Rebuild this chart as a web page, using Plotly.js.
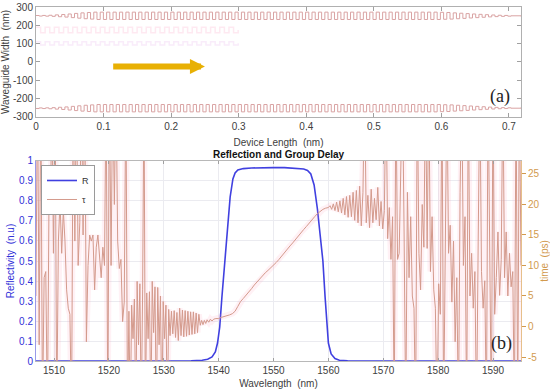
<!DOCTYPE html>
<html><head><meta charset="utf-8">
<script src="https://cdn.plot.ly/plotly-3.0.1.min.js"></script>
<style>html,body{margin:0;padding:0;background:#fff}#chart{width:550px;height:390px}</style>
</head><body><div id="chart"></div>
<script>
// ---------- Panel (a): waveguide width profile ----------
const gratingX = [0,0.0095,0.019,0.0285,0.038,0.0475,0.057,0.0665,0.076,0.0855,0.095,0.1045,0.114,0.1235,0.133,0.1425,0.152,0.1615,0.171,0.1805,0.19,0.1995,0.209,0.2185,0.228,0.2375,0.247,0.2565,0.266,0.2755,0.285,0.2945,0.304,0.3135,0.323,0.3325,0.342,0.3515,0.361,0.3705,0.38,0.3895,0.399,0.4085,0.418,0.4275,0.437,0.4465,0.456,0.4655,0.475,0.4845,0.494,0.5035,0.513,0.5225,0.532,0.5415,0.551,0.5605,0.57,0.5795,0.589,0.5985,0.608,0.6175,0.627,0.6365,0.646,0.6555,0.665,0.6745,0.684,0.6935,0.703];
const gratingAmp = [1.5,2,3,5,7,10,13,16,18,
  20,20,20,20,20,20,20,20,20,20,20,20,20,20,20,20,20,20,20,20,20,20,20,20,20,20,20,20,20,20,20,20,20,20,20,20,20,20,20,20,20,20,20,20,20,20,20,20,20,20,20,20,20,20,
  19,18,16,14,12,10,8,6,4.5,3,2];
const upperCenter = 252, lowerCenter = -252;
const tailX = [0.703, 0.7178];
const tailUpper = [252, 249];
const tailLower = [-252, -249];
// faint ghost traces visible in the reference
const ghostX = [0,0.0136,0.0272,0.0408,0.0544,0.068,0.0816,0.0952,0.1088,0.1224,0.136,0.1496,0.1632,0.1768,0.1904,0.204,0.2176,0.2312,0.2448,0.2584,0.272,0.2856,0.2992];
const ghostAmpA = [15,15,15,15,15,15,15,15,15,15,15,15,15,15,15,15,15,15,15,15,15,15];
const ghostAmpB = [9,9,9,9,9,9,9,9,9,9,9,9,9,9,9,9,9,9,9,9,9,9];
const ghostCenterA = 175, ghostCenterB = 102;
const arrowStart = [0.112, -25], arrowEnd = [0.25, -25];

// ---------- Panel (b): reflection and group delay ----------
const reflectivity = [[1506.7,0],[1530,0],[1535,0.001],[1537,0.004],[1538,0.009],[1538.8,0.02],[1539.4,0.045],[1539.8,0.09],[1540.2,0.17],[1540.6,0.32],[1541.1,0.5],[1541.6,0.68],[1542.1,0.82],[1542.6,0.91],[1543.0,0.94],[1543.5,0.955],[1544.5,0.962],[1546,0.965],[1548,0.967],[1550,0.967],[1552,0.967],[1554,0.965],[1555.5,0.96],[1556.2,0.953],[1556.8,0.935],[1557.4,0.88],[1558.0,0.76],[1558.5,0.63],[1559.0,0.5],[1559.4,0.32],[1559.7,0.18],[1560.0,0.09],[1560.5,0.035],[1561.2,0.012],[1562,0.004],[1563.5,0.001],[1566,0],[1595.1,0]];

const groupDelay = [
[1506.7,5],[1507.0,40],[1507.3,-3],[1507.6,40],[1507.9,-15],[1508.2,8],[1508.5,9],[1508.8,-15],[1509.1,22],[1509.4,21],[1509.6,40],[1509.9,12],[1510.2,40],[1510.5,-15],[1510.8,14],[1511.1,20.5],[1511.4,12],[1511.7,19],[1512.0,14],[1512.3,6],[1512.6,3],[1512.9,2],[1513.2,-15],[1513.5,40],[1513.8,14],[1514.1,40],[1514.4,10],[1514.7,17],[1515.0,40],[1515.3,15],[1515.6,40],[1515.9,-2.5],[1516.2,10],[1516.5,15],[1516.8,14],[1517.1,15],[1517.4,6],[1517.7,13],[1518.0,15],[1518.3,12],[1518.6,8],[1518.9,13],[1519.2,10],[1519.5,40],[1519.8,-15],[1520.1,40],[1520.4,10],[1520.7,40],[1521.0,20],[1521.3,40],[1521.6,14],[1521.9,9.5],[1522.2,11],[1522.5,0.8],[1522.8,4],[1523.1,40],[1523.4,-15],
[1523.65,2.5],[1523.9,-15],[1524.15,3.5],[1524.4,-2],[1524.65,4.5],[1524.9,-15],[1525.15,7.4],[1525.4,-3],[1525.65,7.0],[1525.9,-15],[1526.15,6],[1526.4,40],[1526.65,-15],[1526.9,5.5],[1527.15,-2],[1527.4,5.7],[1527.65,-15],[1527.9,7.4],[1528.15,-1],[1528.4,6.5],[1528.65,-15],[1528.9,6.4],[1529.15,-3],[1529.4,5],[1529.65,-15],[1529.9,4.1],[1530.15,-2],[1530.4,3.5],[1530.65,-15],[1530.9,2.8],[1531.15,-1.5],[1531.4,2.5],[1531.65,-1.2],[1531.9,2.6],[1532.15,-1.8],[1532.4,2.3],[1532.65,-2.3],[1532.9,3.0],[1533.15,-1.5],[1533.4,2.7],[1533.65,-1.7],[1533.9,2.6],[1534.15,-1.6],[1534.4,2.5],[1534.65,-1.4],[1534.9,2.4],[1535.15,-1.3],[1535.4,2.4],[1535.65,-1.2],[1535.9,2.2],[1536.15,-1.0],[1536.4,2.0],[1536.65,0.2],[1536.9,1.0],[1537.15,0.3],[1537.4,1.0],[1537.65,0.5],[1537.9,1.1],[1538.2,0.7],[1538.5,1.2],[1538.8,0.9],[1539.1,1.2],
[1539.5,1.3],[1540.0,1.3],[1540.5,1.5],[1541.0,1.6],[1541.5,1.8],[1542.0,1.9],[1542.5,2.1],[1543.0,2.5],[1543.5,3.3],[1544.0,4.1],[1544.5,4.6],[1545.0,5.1],[1545.5,5.6],[1546.0,6.2],[1546.5,6.8],[1547.0,7.3],[1547.5,7.9],[1548.0,8.4],[1548.5,8.8],[1549.0,9.2],[1549.5,9.6],[1550.0,10.0],[1550.5,10.5],[1551.0,11.0],[1551.5,11.6],[1552.0,12.1],[1552.5,12.6],[1553.0,13.2],[1553.5,13.7],[1554.0,14.3],[1554.5,14.8],[1555.0,15.4],[1555.5,15.9],[1556.0,16.4],[1556.5,17.0],[1557.0,17.5],[1557.5,18.0],[1558.0,18.5],[1558.5,18.9],[1559.0,19.2],[1559.5,19.4],[1560.0,19.5],
[1560.3,19.8],[1560.6,19.2],[1560.9,20.1],[1561.2,19.0],[1561.5,20.4],[1561.8,18.8],[1562.1,20.6],[1562.4,18.6],[1562.7,21.0],[1563.0,18.3],[1563.3,21.3],[1563.6,17.9],[1563.9,21.5],[1564.2,18.0],[1564.5,22.0],[1564.8,17.4],[1565.1,22.3],[1565.4,17.0],[1565.7,23.0],[1566.0,16.5],[1566.3,22.0],[1566.6,40],[1566.9,17.0],[1567.2,21.5],[1567.5,16.2],[1567.8,22.5],[1568.1,17.0],[1568.4,21.0],[1568.7,17.5],[1569.0,22.8],[1569.3,16.5],[1569.6,20.5],[1569.9,16.0],[1570.2,19.0],[1570.5,40],[1570.8,14.4],[1571.1,19.5],[1571.4,11],[1571.7,18],[1572.0,-15],[1572.3,40],[1572.6,11],[1572.9,12],[1573.2,20],[1573.5,40],[1573.8,15],[1574.1,-15],[1574.4,22],[1574.7,8],[1575.0,18],[1575.3,5],[1575.6,3],[1575.9,-15],[1576.2,40],[1576.5,12],[1576.8,6],[1577.1,20],[1577.4,13],[1577.7,40],[1578.0,12.8],[1578.3,40],[1578.6,9],[1578.9,18],[1579.2,6],[1579.5,3],[1579.8,-15],[1580.1,7],[1580.4,2],[1580.7,40],[1581.0,-15],[1581.3,10],[1581.6,40],[1581.9,12],[1582.2,16.6],[1582.5,4],[1582.8,14],[1583.1,-2.5],[1583.4,8],[1583.7,-15],[1584.0,22],[1584.3,40],[1584.6,10],[1584.9,18],[1585.2,-15],[1585.5,40],[1585.8,5],[1586.1,12],[1586.4,3],[1586.7,9],[1587.0,-15],[1587.3,14],[1587.6,40],[1587.9,9],[1588.2,3],[1588.5,7.5],[1588.8,-15],[1589.1,40],[1589.4,5],[1589.7,-15],[1590.0,40],[1590.3,2],[1590.6,8],[1590.9,15.5],[1591.2,5.1],[1591.5,11],[1591.8,40],[1592.1,8],[1592.4,15.5],[1592.7,5],[1593.0,12],[1593.3,6.5],[1593.6,9],[1593.9,-15],[1594.2,40],[1594.5,-15],[1594.8,40],[1595.1,10]
];

const lengthTicks = [0,0.1,0.2,0.3,0.4,0.5,0.6,0.7];
const widthTicks = [-300,-200,-100,0,100,200,300];
const wavelengthTicks = [1510,1520,1530,1540,1550,1560,1570,1580,1590];
const reflTicks = [0,0.1,0.2,0.3,0.4,0.5,0.6,0.7,0.8,0.9,1];
const delayTicks = [-5,0,5,10,15,20,25];

function squareWave(xs, amps, center, sign) {
  const x = [], y = [];
  for (let i = 0; i < amps.length; i++) {
    const mid = (xs[i] + xs[i + 1]) / 2;
    x.push(xs[i], mid);
    y.push(center + sign * amps[i], center - sign * amps[i]);
  }
  x.push(xs[amps.length]);
  y.push(center);
  return {x, y};
}

const up = squareWave(gratingX, gratingAmp, upperCenter, 1);
const lo = squareWave(gratingX, gratingAmp, lowerCenter, -1);
const gA = squareWave(ghostX, ghostAmpA, ghostCenterA, 1);
const gB = squareWave(ghostX, ghostAmpB, ghostCenterB, 1);

const waveColor = '#d9a3a3';
const traces = [
  {x: gA.x, y: gA.y, xaxis:'x', yaxis:'y', mode:'lines', line:{shape:'hv', color:'rgba(250,175,205,0.28)', width:1.5}, showlegend:false, hoverinfo:'skip'},
  {x: gB.x, y: gB.y, xaxis:'x', yaxis:'y', mode:'lines', line:{shape:'hv', color:'rgba(230,180,235,0.25)', width:1.5}, showlegend:false, hoverinfo:'skip'},
  {x: up.x.concat(tailX), y: up.y.concat(tailUpper), xaxis:'x', yaxis:'y', mode:'lines', line:{shape:'hv', color:waveColor, width:1}, showlegend:false},
  {x: lo.x.concat(tailX), y: lo.y.concat(tailLower), xaxis:'x', yaxis:'y', mode:'lines', line:{shape:'hv', color:waveColor, width:1}, showlegend:false},
  {x: reflectivity.map(p=>p[0]), y: reflectivity.map(p=>p[1]), xaxis:'x2', yaxis:'y2', mode:'lines', name:'R', line:{color:'#4040e0', width:1.6}},
  {x: groupDelay.map(p=>p[0]), y: groupDelay.map(p=>p[1]), xaxis:'x2', yaxis:'y3', mode:'lines', line:{color:'rgba(255,150,180,0.13)', width:6}, showlegend:false, hoverinfo:'skip'},
  {x: groupDelay.map(p=>p[0]), y: groupDelay.map(p=>p[1]), xaxis:'x2', yaxis:'y3', mode:'lines', name:'τ', line:{color:'#d49a8c', width:1}}
];

const tickFont = {family:'Liberation Sans, Arial, sans-serif', size:10, color:'#404040'};
const blue = '#3030d8', orange = '#d29a4e';

const layout = {
  width:550, height:390,
  margin:{l:36, r:29, t:7, b:29},
  paper_bgcolor:'#ffffff', plot_bgcolor:'#ffffff',
  font:{family:'Liberation Sans, Arial, sans-serif', size:10, color:'#404040'},
  showlegend:true,
  legend:{x:0.0103, y:0.5537, xanchor:'left', yanchor:'top', bgcolor:'#ffffff', bordercolor:'#9a9a9a', borderwidth:1,
          font:{size:9, color:'#333'}, itemwidth:30, tracegroupgap:0},
  xaxis:{domain:[0,1], anchor:'y', range:[0,0.7178], tickvals:lengthTicks, ticktext:lengthTicks.map(String),
         ticks:'inside', ticklen:4, tickcolor:'#a0a0a0', showline:true, linecolor:'#b0b0b0', linewidth:1, mirror:'ticks',
         showgrid:false, zeroline:false, tickfont:tickFont, title:{text:'Device Length  (nm)', font:{size:10, color:'#404040'}, standoff:8}},
  yaxis:{domain:[0.6893,1], anchor:'x', range:[-300,300], tickvals:widthTicks, ticktext:widthTicks.map(String),
         ticks:'inside', ticklen:4, tickcolor:'#a0a0a0', showline:true, linecolor:'#b0b0b0', linewidth:1, mirror:'ticks',
         showgrid:false, zeroline:false, tickfont:tickFont, title:{text:'Waveguide Width  (nm)', font:{size:10, color:'#404040'}, standoff:2}},
  xaxis2:{domain:[0,1], anchor:'y2', range:[1506.72,1595.1], tickvals:wavelengthTicks, ticktext:wavelengthTicks.map(String),
          ticks:'inside', ticklen:3, tickcolor:'#a0a0a0', showline:true, linecolor:'#b8b8b8', linewidth:1, mirror:'ticks',
          showgrid:true, gridcolor:'#ebebf0', zeroline:false, tickfont:tickFont,
          title:{text:'Wavelength  (nm)', font:{size:10, color:'#404040'}, standoff:4}},
  yaxis2:{domain:[0,0.565], anchor:'x2', range:[0,1], tickvals:reflTicks, ticktext:reflTicks.map(String),
          ticks:'', showline:true, linecolor:'#9a9ae8', linewidth:1, showgrid:true, gridcolor:'#ebebf0', zeroline:false,
          tickfont:{family:'Liberation Sans, Arial, sans-serif', size:10, color:blue},
          title:{text:'Reflectivity  (n.u)', font:{size:10, color:blue}, standoff:2}},
  yaxis3:{overlaying:'y2', anchor:'x2', side:'right', range:[-5.656,27.13], tickvals:delayTicks, ticktext:delayTicks.map(String),
          ticks:'outside', ticklen:4, tickcolor:orange, showline:true, linecolor:'#e6bf8a', linewidth:1, showgrid:false, zeroline:false,
          tickfont:{family:'Liberation Sans, Arial, sans-serif', size:10, color:orange},
          title:{text:'time  (ps)', font:{size:10, color:orange}, standoff:0}},
  annotations:[
    {xref:'paper', yref:'paper', x:0.5, y:0.565, yanchor:'bottom', xanchor:'center', yshift:-1, showarrow:false,
     text:'<b>Reflection and Group Delay</b>', font:{family:'Liberation Sans, Arial, sans-serif', size:10, color:'#111'}},
    {xref:'x', yref:'y', x:0.686, y:-190, showarrow:false, text:'(a)', font:{family:'Liberation Serif, serif', size:18, color:'#222'}},
    {xref:'x2', yref:'y2', x:1591.6, y:0.09, showarrow:false, text:'(b)', font:{family:'Liberation Serif, serif', size:18, color:'#222'}},
    {xref:'x', yref:'y', axref:'x', ayref:'y', x:arrowEnd[0], y:arrowEnd[1], ax:arrowStart[0], ay:arrowStart[1],
     text:'', showarrow:true, arrowhead:2, arrowsize:0.5, arrowwidth:6, arrowcolor:'#e8b004'}
  ]
};

Plotly.newPlot('chart', traces, layout, {displayModeBar:false, staticPlot:true});
</script>
</body></html>
